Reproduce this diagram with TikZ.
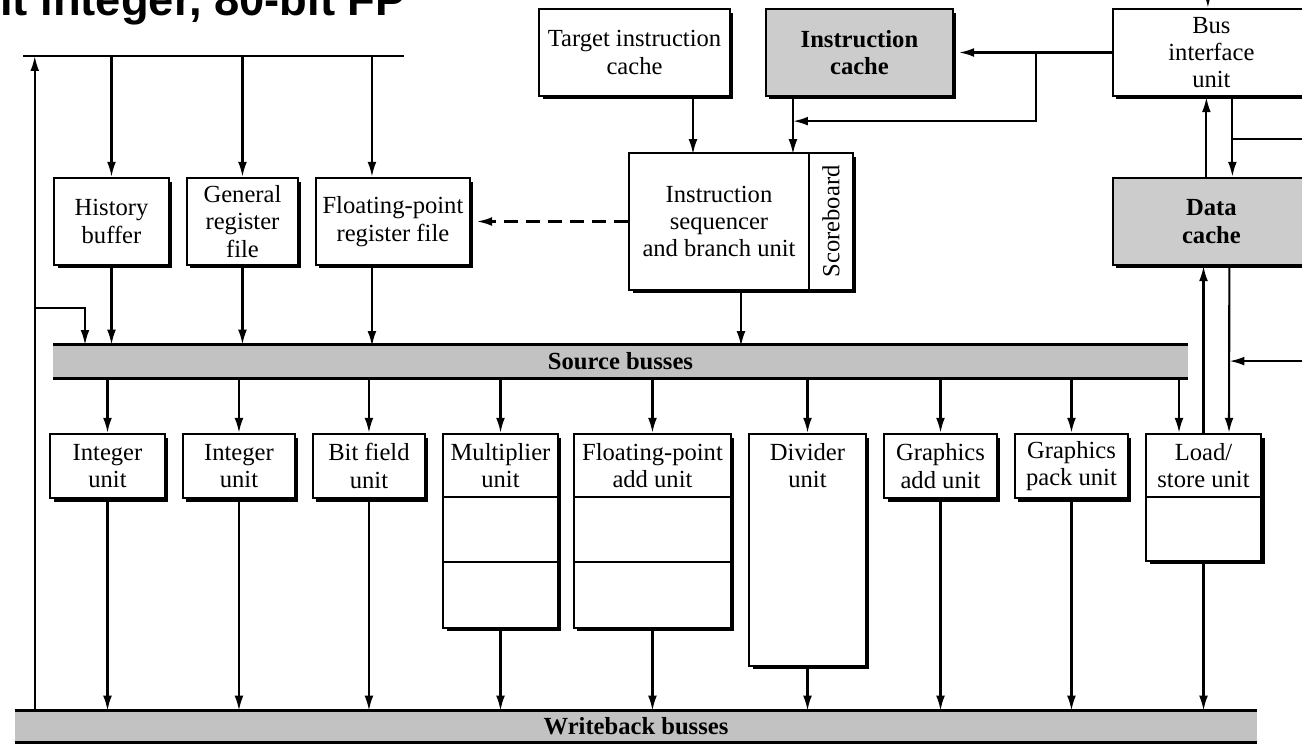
\documentclass[tikz,border=0pt]{standalone}
\usepackage{fontspec}
\setmainfont{Liberation Serif}
\newfontfamily\titlefont{Liberation Sans}
\usepackage{tikz}
\usetikzlibrary{arrows.meta,shadows,positioning}
\tikzstyle{block} = [rectangle, draw, fill=white, line width=1.3pt, inner sep=0pt, align=center,
    drop shadow={shadow xshift=.07cm, shadow yshift=-.07cm, fill=black, opacity=1}]
\tikzstyle{cache} = [block, fill=black!20, font=\fontsize{14}{15.5}\selectfont\bfseries]
\tikzstyle{cell} = [anchor=north, align=center, inner sep=0pt, minimum height=1.28cm]
\tikzstyle{bus} = [rectangle, fill=black!24, inner sep=0pt, font=\fontsize{14}{15.5}\selectfont\bfseries]
\tikzstyle{busline} = [draw, line width=1.8pt]
\tikzstyle{line} = [draw, line width=1.2pt, -{Latex[length=8.5pt,width=5pt]}]
\tikzstyle{dashline} = [line, dash pattern=on 8pt off 4.5pt]

\begin{document}
\begin{tikzpicture}[x=0.02cm, y=-0.02cm, font=\fontsize{14}{15.5}\selectfont]
    \useasboundingbox (0,0) rectangle (1302,748);
    \clip (0,0) rectangle (1302,748);
    % Place nodes
    \node [anchor=base west, inner sep=0pt, font=\titlefont\bfseries\fontsize{25.8}{30}\selectfont] (title) at (0,15) {it integer, 80-bit FP};
    \node [block, minimum width=3.82cm, minimum height=1.74cm] (target) at (634.5,52.5) {Target instruction\\cache};
    \node [cache, right of=target, node distance=4.5cm, minimum width=3.74cm, minimum height=1.74cm] (icache) {Instruction\\cache};
    \node [block, right of=icache, node distance=7.04cm, minimum width=3.94cm, minimum height=1.74cm] (biu) {Bus\\interface\\unit};
    \node [cache, below of=biu, node distance=3.38cm, minimum width=3.94cm, minimum height=1.74cm] (dcache) {Data\\cache};
    \node [block, minimum width=2.3cm, minimum height=1.74cm] (hist) at (111.5,221.5) {History\\buffer};
    \node [block, right of=hist, node distance=2.62cm, minimum width=2.22cm, minimum height=1.74cm] (genreg) {General\\register\\file};
    \node [block, right of=genreg, node distance=3.01cm, minimum width=3.08cm, minimum height=1.74cm] (fpreg) {Floating-point\\register file};
    \node [block, minimum width=3.6cm, minimum height=2.74cm] (seq) at (719,221.5) {Instruction\\sequencer\\and branch unit};
    \node [block, right of=seq, node distance=2.24cm, minimum width=.88cm, minimum height=2.74cm] (score) {\rotatebox{90}{Scoreboard}};
    \node [bus, minimum width=22.7cm, minimum height=.66cm] (src) at (620.5,361.5) {Source busses};
    \node [bus, minimum width=24.84cm, minimum height=.62cm] (wb) at (636,726.5) {Writeback busses};
    \node [block, minimum width=2.3cm, minimum height=1.28cm] (int1) at (107.5,466) {Integer\\unit};
    \node [block, right of=int1, node distance=2.63cm, minimum width=2.24cm, minimum height=1.28cm] (int2) {Integer\\unit};
    \node [block, right of=int2, node distance=2.6cm, minimum width=2.24cm, minimum height=1.28cm] (bitf) {Bit field\\unit};
    \node [block, minimum width=2.3cm, minimum height=3.88cm, label={[cell]north:{Multiplier\\unit}}] (mul) at (500.5,531) {};
    \node [block, right of=mul, node distance=3.04cm, minimum width=3.14cm, minimum height=3.88cm, label={[cell]north:{Floating-point\\add unit}}] (fpadd) {};
    \node [block, minimum width=2.34cm, minimum height=4.64cm, label={[cell]north:{Divider\\unit}}] (divu) at (807.5,550) {};
    \node [block, minimum width=2.26cm, minimum height=1.28cm] (gadd) at (940.5,466) {Graphics\\add unit};
    \node [block, right of=gadd, node distance=2.62cm, minimum width=2.26cm, minimum height=1.28cm] (gpack) {Graphics\\pack unit};
    \node [block, minimum width=2.3cm, minimum height=2.54cm, label={[cell]north:{Load/\\store unit}}] (lsu) at (1203.5,497.5) {};
    \coordinate (tl) at (23,56);
    \coordinate (tr) at (404,56);
    \coordinate (loop) at ([xshift=.4cm]wb.north west);
    \coordinate (tap) at (35,308);
    \coordinate (icfork) at ([xshift=-1.52cm]biu.west);
    % Stage lines
    \path [draw, line width=1.3pt] ([yshift=-1.28cm]mul.north west) -- ([yshift=-1.28cm]mul.north east);
    \path [draw, line width=1.3pt] ([yshift=-2.58cm]mul.north west) -- ([yshift=-2.58cm]mul.north east);
    \path [draw, line width=1.3pt] ([yshift=-1.28cm]fpadd.north west) -- ([yshift=-1.28cm]fpadd.north east);
    \path [draw, line width=1.3pt] ([yshift=-2.58cm]fpadd.north west) -- ([yshift=-2.58cm]fpadd.north east);
    \path [draw, line width=1.3pt] ([yshift=-1.28cm]lsu.north west) -- ([yshift=-1.28cm]lsu.north east);
    % Busses
    \path [busline] (src.north west) -- (src.north east) (src.south west) -- (src.south east);
    \path [busline] (wb.north west) -- (wb.north east) (wb.south west) -- (wb.south east);
    \path [draw, line width=1.2pt] (tl) -- (tr);
    % Draw edges
    \path [line] (loop) -- (loop |- tl);
    \path [line] (tap) -- ++(50,0) -- ++(0,37);
    \path [line] (hist |- tl) -- (hist);
    \path [line] (genreg |- tl) -- (genreg);
    \path [line] ([xshift=-.42cm]fpreg.north) ++(0,-122) -- ([xshift=-.42cm]fpreg.north);
    \path [line] (hist) -- (hist |- src.north);
    \path [line] (genreg) -- (genreg |- src.north);
    \path [line] ([xshift=-.42cm]fpreg.south) -- ++(0,80);
    \path [dashline] (seq.west) -- ([xshift=.12cm]fpreg.east);
    \path [line] ([xshift=1.17cm]target.south) -- ++(0,57);
    \path [line] ([xshift=-1.33cm]icache.south) -- ++(0,57);
    \path [line] (biu.west) -- ([xshift=.1cm]icache.east);
    \path [line] (icfork) |- ([xshift=-1.33cm,yshift=-.48cm]icache.south);
    \path [line] ([xshift=.44cm]seq.south) -- ++(0,55);
    \path [line] ([xshift=-.07cm]biu.north) ++(0,-20) -- ([xshift=-.07cm]biu.north);
    \path [line] ([xshift=-.1cm]dcache.north) -- ([xshift=-.1cm]biu.south);
    \path [line] ([xshift=.42cm]biu.south) -- ([xshift=.42cm]dcache.north);
    \path [draw, line width=1.2pt] ([xshift=.42cm,yshift=-.84cm]biu.south) -- ++(90,0);
    \path [line] (lsu.north) -- (lsu.north |- dcache.south);
    \path [line] ([xshift=.36cm]dcache.south) -- ([xshift=.51cm]lsu.north);
    \path [line] ([xshift=2cm,yshift=-1.9cm]dcache.south) -- ([xshift=.36cm,yshift=-1.9cm]dcache.south);
    \path [line] ([xshift=-.49cm]lsu.north) ++(0,-56) -- ([xshift=-.49cm]lsu.north);
    \path [line] (int1 |- src.south) -- (int1);
    \path [line] (int2 |- src.south) -- (int2);
    \path [line] (bitf |- src.south) -- (bitf);
    \path [line] (mul |- src.south) -- (mul);
    \path [line] (fpadd |- src.south) -- (fpadd);
    \path [line] (divu |- src.south) -- (divu);
    \path [line] (gadd |- src.south) -- (gadd);
    \path [line] (gpack |- src.south) -- (gpack);
    \path [line] (int1) -- (int1 |- wb.north);
    \path [line] (int2) -- (int2 |- wb.north);
    \path [line] (bitf) -- (bitf |- wb.north);
    \path [line] (mul) -- (mul |- wb.north);
    \path [line] (fpadd) -- (fpadd |- wb.north);
    \path [line] (divu) -- (divu |- wb.north);
    \path [line] (gadd) -- (gadd |- wb.north);
    \path [line] (gpack) -- (gpack |- wb.north);
    \path [line] (lsu) -- (lsu |- wb.north);
\end{tikzpicture}
\end{document}
